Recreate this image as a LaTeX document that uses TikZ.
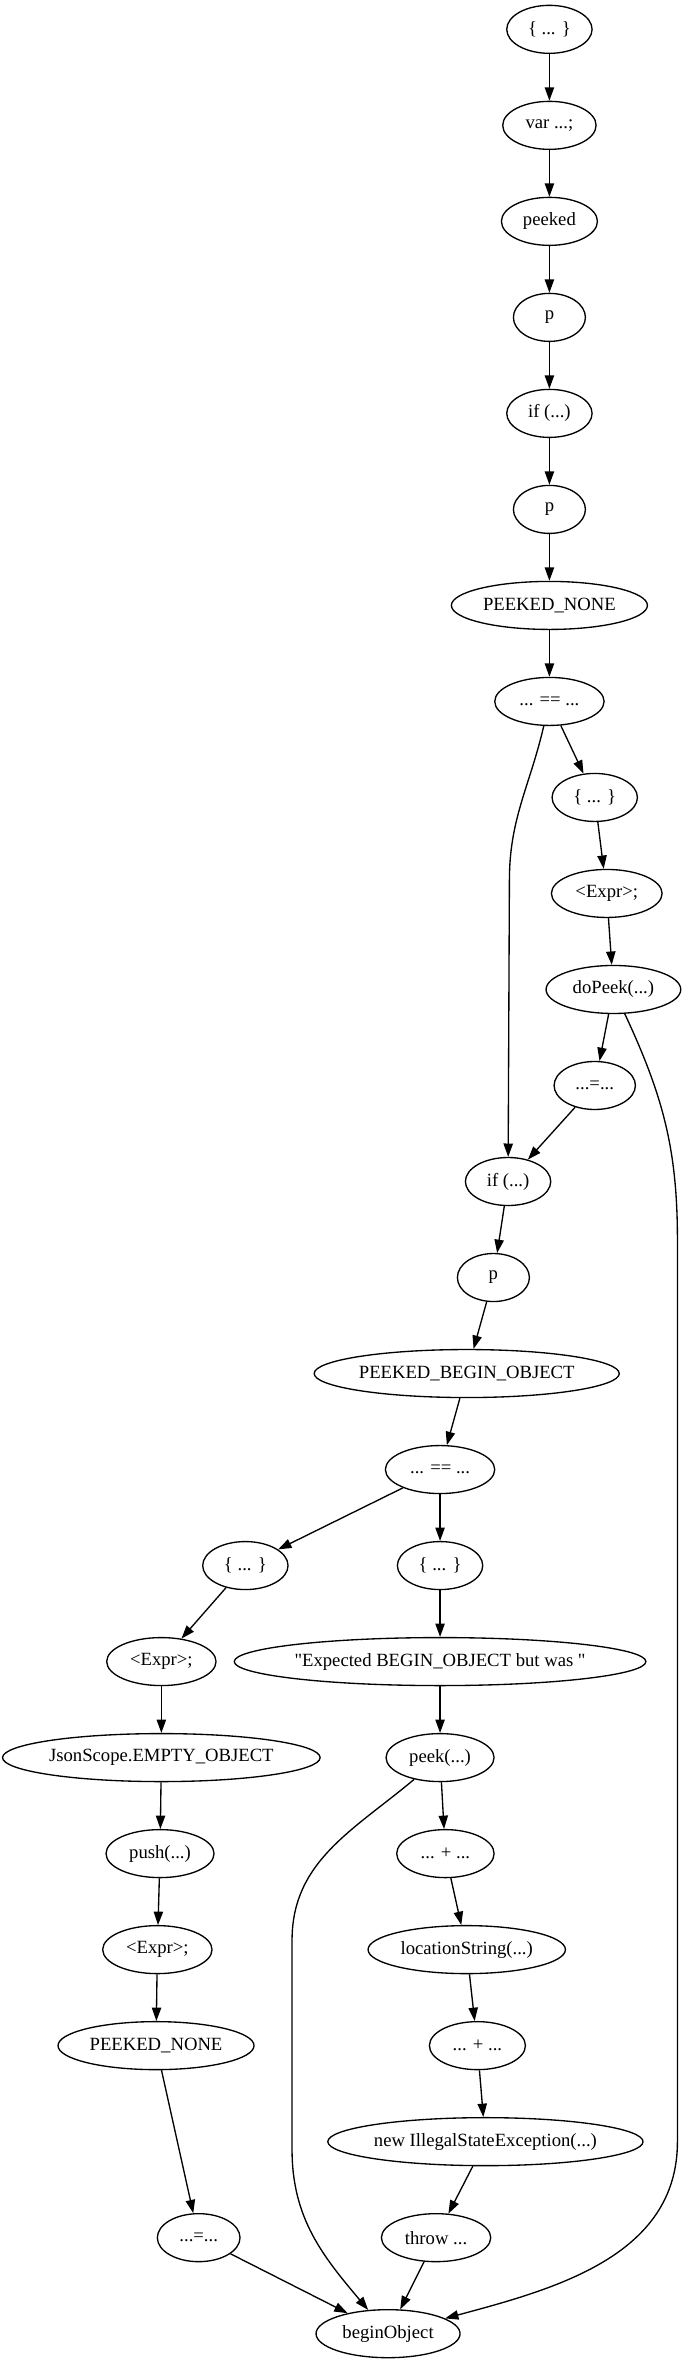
\documentclass[tikz,border=0pt]{standalone}
\usepackage{fontspec}
\setmainfont{Liberation Serif}
\usetikzlibrary{shapes.geometric,arrows.meta}
\tikzset{
  stmt/.style={ellipse, draw, line width=1pt, inner sep=0pt, minimum height=36pt,
    font=\fontsize{14}{16}\selectfont},
  flow/.style={line width=1pt, -{Triangle[length=10pt,width=7pt]}}
}

\begin{document}
\begin{tikzpicture}[x=1pt,y=1pt]
			%%%%% START %%%%%
			\useasboundingbox (0,0) rectangle (512,-1772);
			
			% top chain
			\node[stmt, minimum width=64pt] (blka) at (412,-22) {\{ ... \}};
			\node[stmt, minimum width=70pt] (vardecl) at (412,-94) {var ...;};
			\node[stmt, minimum width=72pt] (peeked) at (412,-166) {peeked};
			\node[stmt, minimum width=54pt] (pa) at (412,-238) {p};
			\node[stmt, minimum width=64pt] (ifa) at (412,-310) {if (...)};
			\node[stmt, minimum width=54pt] (pb) at (412,-382) {p};
			\node[stmt, minimum width=147pt] (nonea) at (412,-454) {PEEKED\_NONE};
			\node[stmt, minimum width=82pt] (eqa) at (412,-526) {... == ...};
			
			\node[stmt, minimum width=64pt] (blkb) at (446,-598) {\{ ... \}};
			\node[stmt, minimum width=83pt] (expra) at (455,-670) {<Expr>;};
			\node[stmt, minimum width=101pt] (dopeek) at (460,-742) {doPeek(...)};
			\node[stmt, minimum width=61pt] (assigna) at (446,-814) {...=...};
			
			\node[stmt, minimum width=64pt] (ifb) at (381,-886) {if (...)};
			\node[stmt, minimum width=54pt] (pc) at (370,-958) {p};
			\node[stmt, minimum width=226pt] (beginobj) at (350,-1030) {PEEKED\_BEGIN\_OBJECT};
			\node[stmt, minimum width=82pt] (eqb) at (330,-1102) {... == ...};
			
			% left branch
			\node[stmt, minimum width=64pt] (blkc) at (184,-1174) {\{ ... \}};
			\node[stmt, minimum width=82pt] (exprb) at (121,-1246) {<Expr>;};
			\node[stmt, minimum width=236pt] (scope) at (121,-1318) {JsonScope.EMPTY\_OBJECT};
			\node[stmt, minimum width=81pt] (push) at (120,-1390) {push(...)};
			\node[stmt, minimum width=82pt] (exprc) at (118,-1462) {<Expr>;};
			\node[stmt, minimum width=147pt] (noneb) at (117,-1534) {PEEKED\_NONE};
			\node[stmt, minimum width=62pt] (assignb) at (149,-1678) {...=...};
			
			% right branch
			\node[stmt, minimum width=64pt] (blkd) at (330,-1174) {\{ ... \}};
			\node[stmt, minimum width=298pt] (msg) at (330,-1246) {\textquotedbl Expected BEGIN\_OBJECT but was \textquotedbl};
			\node[stmt, minimum width=81pt] (peek) at (330,-1318) {peek(...)};
			\node[stmt, minimum width=73pt] (plusa) at (334,-1390) {... + ...};
			\node[stmt, minimum width=148pt] (locstr) at (350,-1462) {locationString(...)};
			\node[stmt, minimum width=72pt] (plusb) at (358,-1534) {... + ...};
			\node[stmt, minimum width=234pt] (newex) at (364,-1606) {new IllegalStateException(...)};
			\node[stmt, minimum width=82pt] (throw) at (327,-1678) {throw ...};
			
			\node[stmt, minimum width=108pt] (method) at (291,-1750) {beginObject};
			
			% bends of the long edges
			\coordinate (eqbend) at (382,-660);
			\coordinate (rtop) at (508,-930);
			\coordinate (rbot) at (508,-1606);
			\coordinate (ltop) at (219,-1455);
			\coordinate (lbot) at (219,-1612);
			
			\draw[flow] (blka) -- (vardecl);
			\draw[flow] (vardecl) -- (peeked);
			\draw[flow] (peeked) -- (pa);
			\draw[flow] (pa) -- (ifa);
			\draw[flow] (ifa) -- (pb);
			\draw[flow] (pb) -- (nonea);
			\draw[flow] (nonea) -- (eqa);
			\draw[flow] (eqa) -- (blkb);
			\draw[flow] (eqa) to[out=-103,in=90] (eqbend) -- (ifb);
			\draw[flow] (blkb) -- (expra);
			\draw[flow] (expra) -- (dopeek);
			\draw[flow] (dopeek) -- (assigna);
			\draw[flow] (dopeek) to[out=-65,in=90] (rtop) -- (rbot) to[out=-90,in=15] (method);
			\draw[flow] (assigna) -- (ifb);
			\draw[flow] (ifb) -- (pc);
			\draw[flow] (pc) -- (beginobj);
			\draw[flow] (beginobj) -- (eqb);
			\draw[flow] (eqb) -- (blkc);
			\draw[flow] (eqb) -- (blkd);
			
			\draw[flow] (blkc) -- (exprb);
			\draw[flow] (exprb) -- (scope);
			\draw[flow] (scope) -- (push);
			\draw[flow] (push) -- (exprc);
			\draw[flow] (exprc) -- (noneb);
			\draw[flow] (noneb) -- (assignb);
			\draw[flow] (assignb) -- (method);
			
			\draw[flow] (blkd) -- (msg);
			\draw[flow] (msg) -- (peek);
			\draw[flow] (peek) -- (plusa);
			\draw[flow] (peek) to[out=-140,in=90] (ltop) -- (lbot) to[out=-90,in=130] (method);
			\draw[flow] (plusa) -- (locstr);
			\draw[flow] (locstr) -- (plusb);
			\draw[flow] (plusb) -- (newex);
			\draw[flow] (newex) -- (throw);
			\draw[flow] (throw) -- (method);
			
			%%%%% END %%%%%
\end{tikzpicture}
\end{document}
